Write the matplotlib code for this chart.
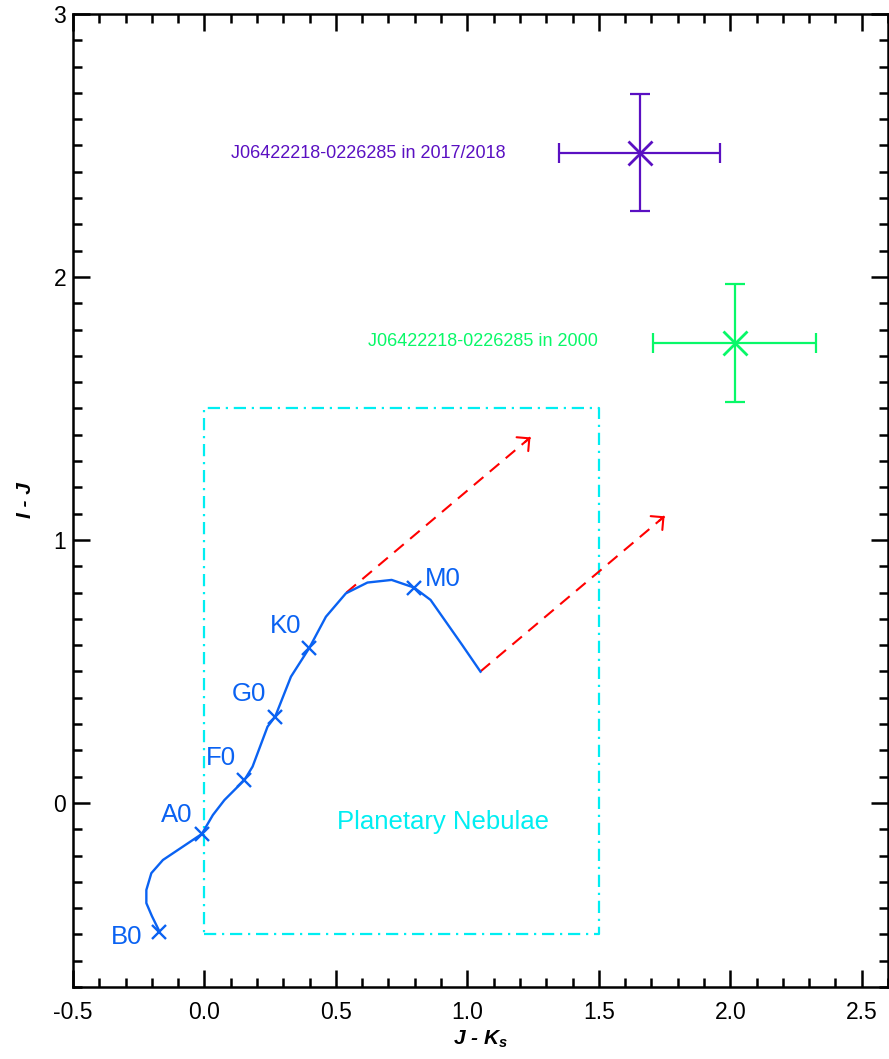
import numpy as np
import matplotlib
matplotlib.use('Agg')
import matplotlib.pyplot as plt
from matplotlib.ticker import MultipleLocator, FormatStrFormatter

plt.rcParams['font.family'] = ['Liberation Sans', 'DejaVu Sans']
plt.rcParams['mathtext.fontset'] = 'custom'
plt.rcParams['mathtext.bf'] = 'Liberation Sans:italic:bold'

# intrinsic colour track of main-sequence stars (J-Ks, I-J)
track_jk = [-0.171, -0.200, -0.221, -0.221, -0.202, -0.158, -0.010, 0.032, 0.076,
            0.152, 0.183, 0.240, 0.269, 0.329, 0.398, 0.462, 0.538, 0.620, 0.712,
            0.797, 0.860, 0.980, 1.050]
track_ij = [-0.489, -0.430, -0.381, -0.331, -0.267, -0.217, -0.118, -0.046, 0.011,
            0.087, 0.138, 0.290, 0.328, 0.480, 0.588, 0.708, 0.797, 0.838, 0.848,
            0.819, 0.772, 0.601, 0.499]

# spectral type markers
sp_types = ['B0', 'A0', 'F0', 'G0', 'K0', 'M0']
sp_jk = [-0.171, -0.010, 0.152, 0.269, 0.398, 0.797]
sp_ij = [-0.489, -0.118, 0.087, 0.328, 0.588, 0.819]

# reddening vectors start on the track
redden_start_jk = [0.54, 1.05]
redden_start_ij = [0.80, 0.50]
redden_vec = (0.70, 0.59)

# planetary nebulae region
pn_jk = (0.0, 1.5)
pn_ij = (-0.5, 1.5)

# J06422218-0226285 measurements
obs_names = ['J06422218-0226285 in 2017/2018', 'J06422218-0226285 in 2000']
obs_jk = [1.655, 2.018]
obs_ij = [2.472, 1.750]
obs_jk_err = [0.305, 0.31]
obs_ij_err = [0.222, 0.224]
obs_colors = ['#5A10C2', '#08F868']

fig = plt.figure(figsize=(8.89, 10.59), dpi=100)
ax = fig.add_axes([73 / 889, 1 - 987 / 1059, 815 / 889, 973 / 1059])

blue = '#0A62F2'
cyan = '#00EEF2'

# PN box
ax.plot([pn_jk[0], pn_jk[1], pn_jk[1], pn_jk[0], pn_jk[0]],
        [pn_ij[0], pn_ij[0], pn_ij[1], pn_ij[1], pn_ij[0]],
        color=cyan, lw=1.6, linestyle=(0, (5.5, 2.6, 1, 2.6)))
ax.text(0.907, -0.072, 'Planetary Nebulae', color=cyan, fontsize=18.5,
        ha='center', va='center')

# reddening arrows
for sx, sy in zip(redden_start_jk, redden_start_ij):
    ex, ey = sx + redden_vec[0], sy + redden_vec[1]
    ax.plot([sx, ex], [sy, ey], color='red', lw=1.5, linestyle=(0, (6, 4)))
    ax.annotate('', xy=(ex, ey), xytext=(ex - 0.03 * redden_vec[0], ey - 0.03 * redden_vec[1]),
                arrowprops=dict(arrowstyle='->,head_length=0.5,head_width=0.5',
                                color='red', lw=1.5, mutation_scale=13,
                                shrinkA=0, shrinkB=0))

# track and spectral types
ax.plot(track_jk, track_ij, color=blue, lw=1.7)
ax.plot(sp_jk, sp_ij, 'x', color=blue, ms=10, mew=1.7)
offsets = [(-24, -4), (-18, 14), (-17, 16), (-19, 16), (-17, 16), (21, 6)]
for name, x, y, off in zip(sp_types, sp_jk, sp_ij, offsets):
    ax.annotate(name, (x, y), xytext=off, textcoords='offset points',
                color=blue, fontsize=18.5, ha='center', va='center')

# measurements
label_pos = [(1.146, 2.468), (1.495, 1.753)]
for i in range(len(obs_names)):
    ax.errorbar(obs_jk[i], obs_ij[i], xerr=obs_jk_err[i], yerr=obs_ij_err[i],
                fmt='none', ecolor=obs_colors[i], elinewidth=1.6,
                capsize=7, capthick=1.6)
    ax.plot(obs_jk[i], obs_ij[i], 'x', color=obs_colors[i], ms=17, mew=2)
    ax.text(label_pos[i][0], label_pos[i][1], obs_names[i], color=obs_colors[i],
            fontsize=13, ha='right', va='center')

ax.set_xlim(-0.5, 2.6)
ax.set_ylim(-0.7, 3.0)
ax.xaxis.set_major_locator(MultipleLocator(0.5))
ax.xaxis.set_minor_locator(MultipleLocator(0.1))
ax.yaxis.set_major_locator(MultipleLocator(1))
ax.yaxis.set_minor_locator(MultipleLocator(0.1))
ax.xaxis.set_major_formatter(FormatStrFormatter('%.1f'))
ax.yaxis.set_major_formatter(FormatStrFormatter('%d'))
ax.tick_params(which='both', direction='in', top=True, right=True, width=1.8,
               labelsize=16.5)
ax.tick_params(which='major', length=12)
ax.tick_params(which='minor', length=6.5)
ax.tick_params(axis='x', pad=10)
ax.tick_params(axis='y', pad=5)
for s in ax.spines.values():
    s.set_linewidth(1.8)

ax.set_xlabel(r'J - K$_\mathbf{s}$', fontsize=15, fontweight='bold',
              fontstyle='italic', labelpad=3)
ax.set_ylabel('I - J', fontsize=15, fontweight='bold', fontstyle='italic',
              labelpad=13)

fig.savefig('out.png', dpi=100)
